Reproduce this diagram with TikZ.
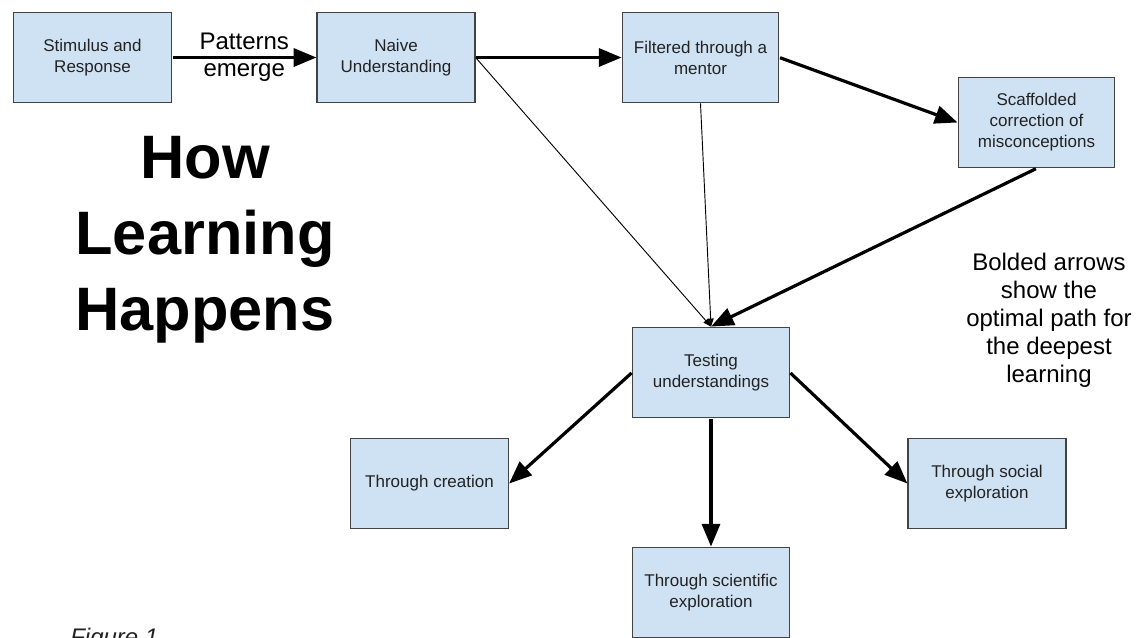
\documentclass[tikz,border=0pt]{standalone}
\usepackage{fontspec}
\setmainfont{Liberation Sans}
\usepackage{xcolor}
\usetikzlibrary{arrows.meta, positioning, calc}

\begin{document}
\begin{tikzpicture}[x=0.75pt, y=-0.75pt]
% Flow chart of how learning happens

\definecolor{boxfill}{RGB}{207,226,243}  % light blue
\definecolor{boxline}{RGB}{67,67,67}     % dark grey border
\definecolor{boxtext}{RGB}{34,34,34}

\tikzset{
    box/.style={draw=boxline, line width=0.9pt, fill=boxfill, text=boxtext,
        minimum width=118.5pt, minimum height=68pt, align=center,
        font=\fontsize{12.75}{15.75}\selectfont, inner sep=2pt},
    boldarrow/.style={line width=2.4pt, -{Triangle[length=17pt, width=13.5pt]}, shorten <=0.5pt},
    thinarrow/.style={line width=0.7pt, -{Triangle[length=6pt, width=4.5pt]}}
}

\useasboundingbox (0,0) rectangle (1138,637);

% Boxes
\node[box] (stim) at (92.5,57.5) {Stimulus and\\Response};
\node[box] (naive) at (396,57.5) {Naive\\Understanding};
\node[box, minimum width=117.5pt] (filter) at (700.5,57.5) {Filtered through a\\mentor};
\node[box, minimum width=117.5pt] (scaff) at (1036.5,122.5) {Scaffolded\\correction of\\misconceptions};
\node[box, minimum width=117.5pt] (test) at (711,372.5) {Testing\\understandings};
\node[box] (create) at (429.5,483.5) {Through creation};
\node[box, minimum width=117.5pt] (sci) at (711,592.5) {Through scientific\\exploration};
\node[box] (social) at (987,483.5) {Through social\\exploration};

% Title
\node[anchor=north, align=center, inner sep=0pt, font=\fontsize{46}{57}\selectfont\bfseries] (title) at (205,136) {How\\Learning\\Happens};

% Note on the bold arrows
\node[anchor=north, align=center, inner sep=0pt, font=\fontsize{18}{21}\selectfont] (note) at (1049,253) {Bolded arrows\\show the\\optimal path for\\the deepest\\learning};

% Caption
\node[anchor=base west, inner sep=0pt, font=\fontsize{18}{20}\selectfont\itshape, text=boxtext] (caption) at (70,645) {Figure 1};

% Arrows - optimal path
\draw[boldarrow] (stim) -- (naive) node[midway, align=center, inner sep=0pt, font=\fontsize{18}{20}\selectfont] (patterns) {Patterns\\emerge};
\draw[boldarrow] (naive.east) -- (filter.west);
\draw[boldarrow] (filter.east) -- (scaff.west);
\draw[boldarrow] (scaff.south) -- (test.north);
\draw[boldarrow] (test.west) -- (create.east);
\draw[boldarrow] (test.south) -- (sci.north);
\draw[boldarrow] (test.east) -- (social.west);

% Arrows - shortcuts
\draw[thinarrow] (naive.east) -- (test.north);
\draw[thinarrow] (filter.south) -- (test.north);

\end{tikzpicture}
\end{document}
